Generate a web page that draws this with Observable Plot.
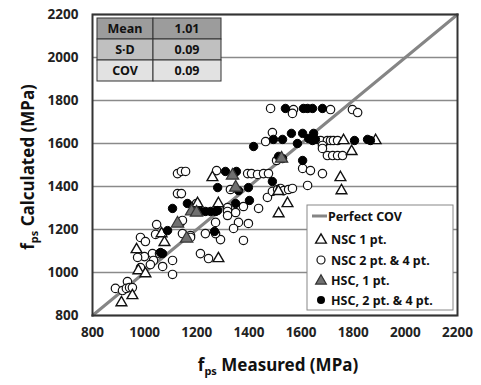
<!DOCTYPE html>
<html><head><meta charset="utf-8">
<script src="https://cdn.jsdelivr.net/npm/d3@7"></script>
<script src="https://cdn.jsdelivr.net/npm/@observablehq/plot@0.6"></script>
<style>body{margin:0;background:#fff;font-family:"Noto Sans",sans-serif}#chart{width:481px;height:385px}</style>
</head><body><div id="chart"></div>
<script>
// NSC 1 pt. (open triangles)
const nsc1X = [911, 953, 976, 1003, 969, 1065, 1076, 1283, 1260, 1203, 1283, 1514, 1548, 1763, 1886, 1794, 1751, 1755, 1513];
const nsc1Y = [860, 893, 1009, 995, 1107, 1181, 1140, 1065, 1442, 1321, 1321, 1274, 1321, 1614, 1614, 1563, 1442, 1381, 1377];
// NSC 2 pt. & 4 pt. (open circles)
const nsc2X = [888, 915, 934, 930, 942, 953, 984, 999, 1030, 1034, 1022, 1057, 1107, 1069, 1107, 1214, 1245, 984, 1003, 1042, 973, 1046, 1138, 1145, 1176, 1233, 1145, 1176, 1272, 1360, 1398, 1341, 1379, 1291, 1272, 1318, 1318, 1318, 1349, 1379, 1437, 1199, 1126, 1141, 1126, 1141, 1157, 1276, 1395, 1410, 1433, 1456, 1475, 1329, 1471, 1490, 1510, 1521, 1533, 1552, 1483, 1490, 1464, 1506, 1571, 1567, 1713, 1797, 1817, 1675, 1701, 1713, 1724, 1740, 1682, 1682, 1701, 1721, 1740, 1759, 1606, 1636, 1682, 1625, 1567];
const nsc2Y = [926, 916, 958, 926, 930, 930, 1023, 1074, 1088, 1056, 1037, 1088, 1056, 1028, 991, 1088, 1065, 1163, 1144, 1177, 1070, 1223, 1233, 1181, 1172, 1181, 1242, 1163, 1233, 1233, 1228, 1205, 1149, 1153, 1181, 1302, 1284, 1265, 1279, 1307, 1298, 1321, 1367, 1367, 1460, 1470, 1470, 1474, 1460, 1460, 1456, 1460, 1460, 1386, 1349, 1377, 1386, 1391, 1381, 1386, 1763, 1651, 1609, 1521, 1758, 1740, 1758, 1758, 1744, 1614, 1614, 1614, 1614, 1614, 1591, 1577, 1544, 1544, 1544, 1544, 1484, 1474, 1460, 1405, 1391];
// HSC, 1 pt. (grey triangles)
const hsc1X = [1126, 1161, 1180, 1199, 1337, 1349, 1525];
const hsc1Y = [1228, 1158, 1284, 1279, 1451, 1395, 1530];
// HSC, 2 pt. & 4 pt. (filled circles)
const hsc2X = [1088, 1061, 1069, 1268, 1107, 1164, 1214, 1233, 1253, 1272, 1280, 1349, 1402, 1280, 1360, 1398, 1310, 1352, 1490, 1418, 1494, 1529, 1563, 1514, 1529, 1540, 1609, 1625, 1644, 1682, 1606, 1648, 1586, 1629, 1644, 1655, 1805, 1855, 1866, 1606];
const hsc2Y = [1195, 1093, 1088, 1191, 1298, 1321, 1284, 1284, 1284, 1284, 1288, 1321, 1335, 1395, 1381, 1395, 1470, 1470, 1423, 1586, 1619, 1619, 1647, 1540, 1530, 1763, 1763, 1763, 1763, 1763, 1647, 1647, 1600, 1623, 1614, 1619, 1614, 1619, 1614, 1521];
// Perfect line ends
const perfect = [800, 2200];
// Axis ticks
const ticks = [800, 1000, 1200, 1400, 1600, 1800, 2000, 2200];
// Statistics table
const statLabels = ["Mean", "S·D", "COV"];
const statValues = ["1.01", "0.09", "0.09"];
const statFills = ["#9c9c9c", "#c0c0c0", "#e2e2e2"];
// Legend
const legendLabels = ["Perfect COV", "NSC 1 pt.", "NSC 2 pt. & 4 pt.", "HSC, 1 pt.", "HSC, 2 pt. & 4 pt."];

const zip = (xs, ys) => xs.map((x, i) => ({x, y: ys[i]}));
const nsc1 = zip(nsc1X, nsc1Y), nsc2 = zip(nsc2X, nsc2Y), hsc1 = zip(hsc1X, hsc1Y), hsc2 = zip(hsc2X, hsc2Y);
const line = perfect.map(v => ({x: v, y: v}));
const FONT = "Noto Sans";

const svg = Plot.plot({
  width: 481, height: 385,
  marginLeft: 92, marginRight: 24, marginTop: 14, marginBottom: 70,
  style: {fontFamily: FONT, fontSize: "13.5px", fontWeight: "bold", color: "#222", background: "#fff"},
  x: {domain: [800, 2200], ticks: ticks, tickFormat: d => String(d), tickSize: 0, tickPadding: 12, label: null},
  y: {domain: [800, 2200], ticks: ticks, tickFormat: d => String(d), tickSize: 0, tickPadding: 14, label: null},
  marks: [
    Plot.gridY(ticks, {stroke: "#8a8a8a", strokeOpacity: 1, strokeWidth: 1.5}),
    Plot.line(line, {x: "x", y: "y", stroke: "#858585", strokeWidth: 3}),
    Plot.dot(nsc2, {x: "x", y: "y", r: 4.2, fill: "white", stroke: "#111", strokeWidth: 1.2}),
    Plot.dot(nsc1, {x: "x", y: "y", symbol: "triangle", r: 4, fill: "white", stroke: "#111", strokeWidth: 1.4}),
    Plot.dot(hsc2, {x: "x", y: "y", r: 4.2, fill: "#000", stroke: "#000", strokeWidth: 1}),
    Plot.dot(hsc1, {x: "x", y: "y", symbol: "triangle", r: 4.6, fill: "#707070", stroke: "#333", strokeWidth: 1.2}),
    Plot.frame({stroke: "#333", strokeWidth: 2})
  ]
});
document.getElementById("chart").appendChild(svg);
const s = d3.select(svg);

const txt = (g, x, y, str, anchor, size) => g.append("text").attr("x", x).attr("y", y).attr("dy", "0.36em")
  .attr("text-anchor", anchor).attr("font-family", FONT).attr("font-weight", "bold").attr("font-size", size)
  .attr("fill", "#111").attr("stroke", "none").text(str);

// statistics table
const tx = 97, ty = 18, c1 = 56, c2 = 68, rh = 21;
statLabels.forEach((lab, i) => {
  const g = s.append("g");
  g.append("rect").attr("x", tx).attr("y", ty + i * rh).attr("width", c1).attr("height", rh).attr("fill", statFills[i]).attr("stroke", "#333").attr("stroke-width", 1);
  g.append("rect").attr("x", tx + c1).attr("y", ty + i * rh).attr("width", c2).attr("height", rh).attr("fill", statFills[i]).attr("stroke", "#333").attr("stroke-width", 1);
  txt(g, tx + c1 / 2, ty + i * rh + rh / 2, lab, "middle", 12.5);
  txt(g, tx + c1 + c2 / 2, ty + i * rh + rh / 2, statValues[i], "middle", 12.5);
});

// legend
const lx = 307, ly = 205, lw = 146, lh = 105;
const lg = s.append("g");
lg.append("rect").attr("x", lx).attr("y", ly).attr("width", lw).attr("height", lh).attr("fill", "#fff").attr("stroke", "#888").attr("stroke-width", 1);
const rowY = [216, 239, 260, 280, 300];
const tri = d3.symbol(d3.symbolTriangle, 50)();
legendLabels.forEach((lab, i) => {
  const y = rowY[i];
  if (i === 0) lg.append("line").attr("x1", 312).attr("x2", 327).attr("y1", y).attr("y2", y).attr("stroke", "#858585").attr("stroke-width", 3);
  if (i === 1) lg.append("path").attr("d", tri).attr("transform", `translate(321,${y + 1})`).attr("fill", "#fff").attr("stroke", "#111").attr("stroke-width", 1.4);
  if (i === 2) lg.append("circle").attr("cx", 321).attr("cy", y).attr("r", 4).attr("fill", "#fff").attr("stroke", "#111").attr("stroke-width", 1.2);
  if (i === 3) lg.append("path").attr("d", tri).attr("transform", `translate(321,${y + 1})`).attr("fill", "#707070").attr("stroke", "#333").attr("stroke-width", 1.2);
  if (i === 4) lg.append("circle").attr("cx", 321).attr("cy", y).attr("r", 4).attr("fill", "#000").attr("stroke", "none");
  txt(lg, i === 0 ? 328 : 331, y, lab, "start", 12.5);
});

// axis titles with subscripts
function title(sel, main) {
  sel.append("tspan").text("f");
  sel.append("tspan").attr("font-size", 11).attr("dy", 4).text("ps");
  sel.append("tspan").attr("dy", -4).text(" " + main);
}
const xt = s.append("text").attr("x", 278).attr("y", 371).attr("text-anchor", "middle").attr("font-family", FONT).attr("font-weight", "bold").attr("font-size", 17).attr("fill", "#111");
title(xt, "Measured (MPa)");
const yt = s.append("text").attr("transform", "translate(34,167) rotate(-90)").attr("text-anchor", "middle").attr("font-family", FONT).attr("font-weight", "bold").attr("font-size", 17).attr("fill", "#111");
title(yt, "Calculated (MPa)");
</script>
</body></html>
